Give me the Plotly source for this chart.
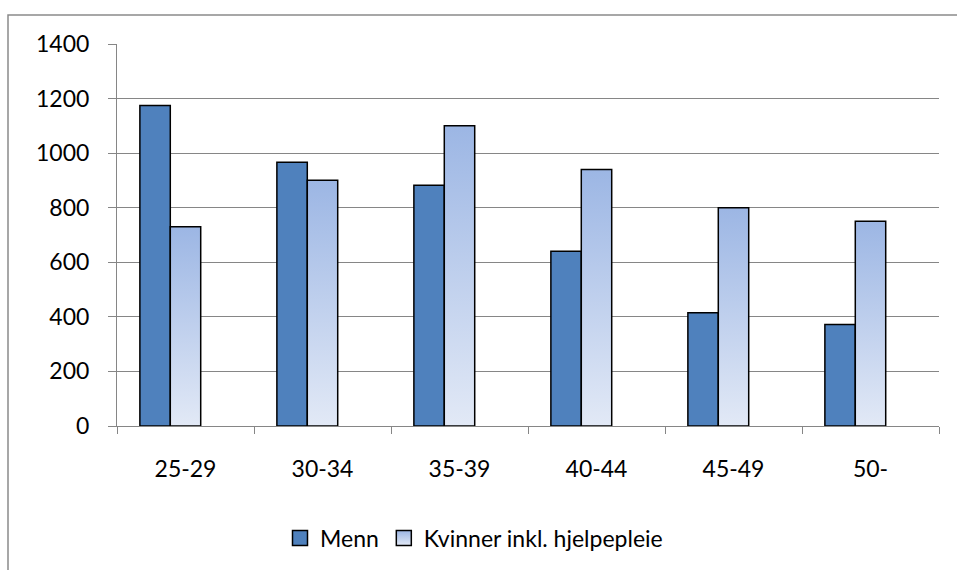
import plotly.graph_objects as go

# Data
age_groups = ["25-29", "30-34", "35-39", "40-44", "45-49", "50-"]
menn = [1175, 967, 882, 640, 415, 372]
kvinner = [730, 901, 1100, 940, 800, 750]
y_ticks = [0, 200, 400, 600, 800, 1000, 1200, 1400]

FONT = "Lato"
FONT_SIZE = 23
GRID = "#868686"
MENN_COLOR = "#4F81BD"
KV_TOP = "#9CB6E4"
KV_BOTTOM = "#E2E9F6"
KV_NAME = "Kvinner inkl. hjelpepleie"

# each category holds three bar slots; the third one stays empty
slot = 0.222
menn_offset = -1.5 * slot
kv_offset = -0.5 * slot

x_pos = list(range(len(age_groups)))

fig = go.Figure()

fig.add_trace(go.Bar(
    x=x_pos, y=menn, name="Menn",
    width=slot, offset=menn_offset,
    marker=dict(color=MENN_COLOR, line=dict(color="black", width=1.5)),
    legendgroup="menn", showlegend=False,
))

# Kvinner bars drawn as filled outlines so each can carry a vertical gradient
for i, v in enumerate(kvinner):
    x0 = x_pos[i] + kv_offset
    x1 = x0 + slot
    fig.add_trace(go.Scatter(
        x=[x0, x0, x1, x1, x0], y=[0, v, v, 0, 0],
        mode="lines", fill="toself",
        line=dict(color="black", width=1.5),
        fillgradient=dict(type="vertical", start=0, stop=v,
                          colorscale=[[0, KV_BOTTOM], [1, KV_TOP]]),
        name=KV_NAME, legendgroup="kv", showlegend=False,
        hoverinfo="skip",
    ))

# square legend swatches
fig.add_trace(go.Scatter(
    x=[None], y=[None], mode="markers", name="Menn", legendgroup="menn",
    marker=dict(symbol="square", size=15, color=MENN_COLOR,
                line=dict(color="black", width=1.5)),
))
fig.add_trace(go.Scatter(
    x=[None], y=[None], mode="markers", name=KV_NAME, legendgroup="kv",
    marker=dict(symbol="square", size=15, color=KV_TOP,
                gradient=dict(type="vertical", color=KV_BOTTOM),
                line=dict(color="black", width=1.5)),
))

# outer chart frame
plot_w = 957 - 117 - 18
plot_h = 570 - 44 - 143
fig.add_shape(
    type="rect", xref="paper", yref="paper",
    x0=(8 - 117) / plot_w, x1=(965 - 117) / plot_w,
    y0=(427 - 580) / plot_h, y1=(427 - 15) / plot_h,
    line=dict(color="#8a8a8a", width=1.5), fillcolor="rgba(0,0,0,0)",
    layer="below",
)

fig.update_layout(
    width=957, height=570,
    margin=dict(l=117, r=18, t=44, b=143),
    paper_bgcolor="white", plot_bgcolor="white",
    font=dict(family=FONT, size=FONT_SIZE, color="black"),
    showlegend=True,
    legend=dict(orientation="h", x=(280 - 117) / plot_w, xanchor="left",
                y=(427 - 538) / plot_h, yanchor="middle",
                font=dict(family=FONT, size=FONT_SIZE, color="black"),
                itemwidth=30, traceorder="normal"),
    xaxis=dict(
        range=[-0.5, 5.5], tickmode="array", tickvals=x_pos, ticktext=age_groups,
        ticks="", showgrid=False, zeroline=False,
        showline=True, linecolor=GRID, linewidth=1,
        ticklabelstandoff=22,
        minor=dict(tickmode="array", tickvals=[i - 0.5 for i in range(len(age_groups) + 1)],
                   ticks="outside", ticklen=7, tickcolor=GRID, tickwidth=1, showgrid=False),
        fixedrange=True,
    ),
    yaxis=dict(
        range=[0, 1400], tickmode="array", tickvals=y_ticks,
        ticks="outside", ticklen=8, tickcolor=GRID, tickwidth=1,
        showgrid=True, gridcolor=GRID, gridwidth=1,
        showline=True, linecolor=GRID, linewidth=1, zeroline=False,
        ticklabelstandoff=14,
        fixedrange=True,
    ),
)

fig.write_html("out.html")
